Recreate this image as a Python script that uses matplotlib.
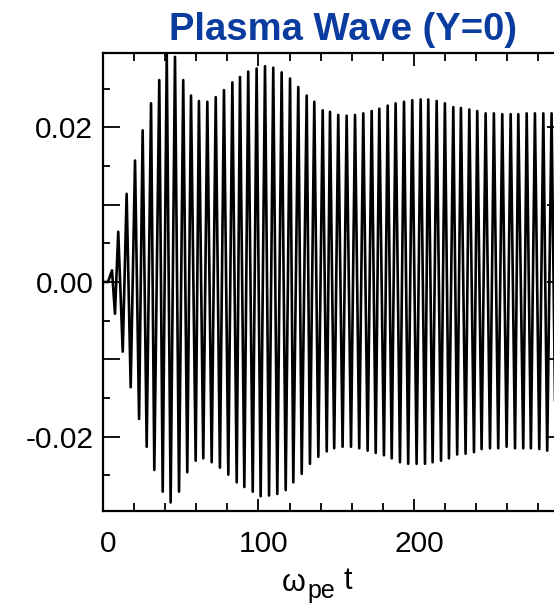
import matplotlib
matplotlib.use("Agg")
import matplotlib.pyplot as plt
import matplotlib.transforms as mtransforms
from matplotlib.ticker import FixedLocator, MultipleLocator, FuncFormatter

plt.rcParams["font.family"] = ["Liberation Sans", "DejaVu Sans"]

# extrema of the wave (time in omega_pe t, amplitude)
ext_t = [0.0, 3.2, 5.8, 7.7, 9.8, 12.7, 15.2, 17.8, 20.6, 23.2, 25.5, 28.1,
         30.9, 33.0, 36.2, 38.4, 41.0, 43.5, 46.3, 48.9, 51.6, 54.2, 56.6,
         59.6, 61.7, 64.5, 67.1, 69.9, 72.5, 75.2, 77.8, 80.6, 83.2, 86.0,
         88.1, 90.9, 93.4, 96.3, 98.8, 101.4, 104.2, 106.8, 109.5, 112.1,
         114.9, 117.5, 120.3, 122.4, 125.6, 127.8, 131.0, 133.1, 135.9,
         138.5, 141.3, 143.9, 146.0, 148.7, 151.3, 154.1, 156.7, 159.5,
         162.1, 164.8, 167.4, 170.2, 172.8, 175.4, 177.7, 180.7, 183.1,
         185.7, 188.2, 191.0, 193.6, 196.3, 198.9, 201.7, 204.3, 207.1,
         209.2, 212.0, 214.6, 217.4, 219.9, 222.5, 225.3, 227.8, 230.2,
         233.2, 235.6, 238.6, 240.7, 243.5, 246.1, 248.9, 251.4, 254.2,
         256.8, 259.6, 262.2, 265.0, 267.1, 270.3, 272.5, 275.2, 277.8,
         280.6, 283.2, 285.7, 288.5, 291.1]
ext_v = [0.0, 0.0, 0.0015, -0.0041, 0.0065, -0.0090, 0.0114, -0.0136,
         0.0157, -0.0177, 0.0196, -0.0213, 0.0231, -0.0243, 0.0261, -0.0271,
         0.0295, -0.0285, 0.0291, -0.0271, 0.0261, -0.0246, 0.0241, -0.0231,
         0.0234, -0.0228, 0.0233, -0.0233, 0.0239, -0.0240, 0.0248, -0.0249,
         0.0258, -0.0259, 0.0265, -0.0265, 0.0272, -0.0271, 0.0276, -0.0277,
         0.0279, -0.0276, 0.0277, -0.0274, 0.0271, -0.0269, 0.0263, -0.0259,
         0.0252, -0.0248, 0.0241, -0.0235, 0.0233, -0.0226, 0.0222, -0.0219,
         0.0220, -0.0215, 0.0216, -0.0213, 0.0215, -0.0213, 0.0216, -0.0215,
         0.0218, -0.0218, 0.0221, -0.0221, 0.0224, -0.0224, 0.0228, -0.0228,
         0.0231, -0.0233, 0.0233, -0.0235, 0.0235, -0.0235, 0.0236, -0.0235,
         0.0236, -0.0233, 0.0234, -0.0231, 0.0231, -0.0228, 0.0226, -0.0223,
         0.0225, -0.0222, 0.0223, -0.0220, 0.0221, -0.0216, 0.0218, -0.0215,
         0.0218, -0.0215, 0.0217, -0.0213, 0.0217, -0.0215, 0.0217, -0.0215,
         0.0218, -0.0215, 0.0218, -0.0216, 0.0218, -0.0218, 0.0218, -0.0218]

y_major = [-0.02, -0.01, 0.0, 0.01, 0.02]
y_labelled = [-0.02, 0.0, 0.02]

fig = plt.figure(figsize=(5.54, 6.06), dpi=100)
ax = fig.add_axes([103 / 554, 1 - 511 / 606, 461 / 554, 458 / 606])

ax.plot(ext_t, ext_v, color="black", lw=1.9, solid_joinstyle="round")

ax.set_xlim(0, 296.5)
ax.set_ylim(-0.0296, 0.0296)

ax.xaxis.set_major_locator(MultipleLocator(100))
ax.xaxis.set_minor_locator(MultipleLocator(20))
ax.yaxis.set_major_locator(FixedLocator(y_major))
ax.yaxis.set_minor_locator(MultipleLocator(0.005))
ax.yaxis.set_major_formatter(FuncFormatter(
    lambda v, p: f"{v:.2f}".replace("-0.00", "0.00")
    if any(abs(v - l) < 1e-9 for l in y_labelled) else ""))

ax.tick_params(axis="both", which="both", direction="in", top=True,
               right=True, width=1.3, color="black", labelsize=21.5)
ax.tick_params(axis="y", which="major", length=12, pad=7)
ax.tick_params(axis="y", which="minor", length=5)
ax.tick_params(axis="x", which="major", length=9, pad=14)
ax.tick_params(axis="x", which="minor", length=5.5)
for s in ax.spines.values():
    s.set_linewidth(1.6)

# x labels sit a little right of their ticks in the original
shift = mtransforms.ScaledTranslation(5 / 100, 0, fig.dpi_scale_trans)
for lab in ax.get_xticklabels():
    lab.set_transform(lab.get_transform() + shift)

fig.text(343 / 554, 1 - 40 / 606, "Plasma Wave (Y=0)", color="#0a3ca0",
         fontsize=27.5, fontweight="bold", ha="center", va="baseline")

# axis title: omega, subscript "pe", then t
fig.text(282 / 554, 1 - 591 / 606, "\u03c9", fontsize=22,
         ha="left", va="baseline")
fig.text(307 / 554, 1 - 598 / 606, "pe", fontsize=18,
         ha="left", va="baseline")
fig.text(343 / 554, 1 - 589 / 606, "t", fontsize=22,
         ha="left", va="baseline")

fig.savefig("out.png", dpi=100)
